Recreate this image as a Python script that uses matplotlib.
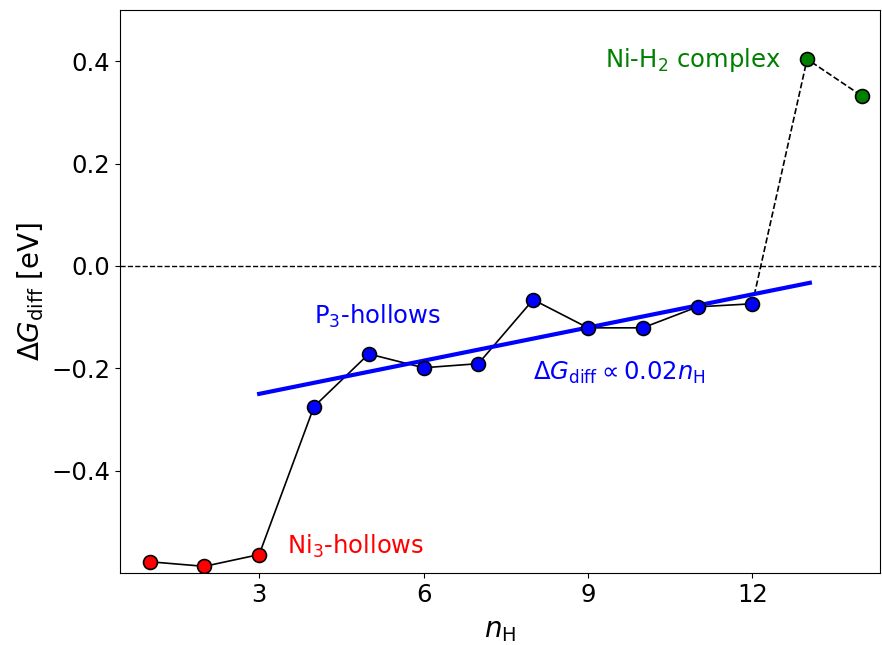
import matplotlib
matplotlib.use("Agg")
import matplotlib.pyplot as plt

# Differential Gibbs free energy of H adsorption vs. number of adsorbed H
n_ni3 = [1, 2, 3]
dg_ni3 = [-0.578, -0.587, -0.564]

n_p3 = [4, 5, 6, 7, 8, 9, 10, 11, 12]
dg_p3 = [-0.275, -0.172, -0.199, -0.191, -0.066, -0.121, -0.121, -0.080, -0.074]

n_h2 = [13, 14]
dg_h2 = [0.404, 0.332]

# Linear trend over the P3-hollow regime
fit_n = [3, 13.05]
fit_dg = [-0.250, -0.033]

x_ticks = [3, 6, 9, 12]
y_ticks = [-0.4, -0.2, 0.0, 0.2, 0.4]

fig = plt.figure(figsize=(8.82, 6.45), dpi=100)
ax = fig.add_axes([120 / 882, 1 - 573 / 645, 760 / 882, 563 / 645])

ax.axhline(0.0, color="black", ls="--", lw=1.0, zorder=1)

n_solid = n_ni3 + n_p3
dg_solid = dg_ni3 + dg_p3
ax.plot(n_solid, dg_solid, color="black", lw=1.2, zorder=2)
ax.plot([n_p3[-1]] + n_h2, [dg_p3[-1]] + dg_h2, color="black", lw=1.2, ls="--", zorder=2)

ax.plot(fit_n, fit_dg, color="blue", lw=3, zorder=3)

mk = dict(marker="o", ls="none", ms=10, mec="black", mew=1.2, zorder=4)
ax.plot(n_ni3, dg_ni3, mfc="red", **mk)
ax.plot(n_p3, dg_p3, mfc="blue", **mk)
ax.plot(n_h2, dg_h2, mfc="green", **mk)

fs = 17.5
ax.text(9.31, 0.402, r"Ni-H$_2$ complex", color="green", fontsize=fs, va="center", ha="left")
ax.text(4.0, -0.098, r"P$_3$-hollows", color="blue", fontsize=fs, va="center", ha="left")
ax.text(8.0, -0.209, r"$\Delta G_\mathrm{diff} \propto 0.02n_\mathrm{H}$", color="blue",
        fontsize=fs, va="center", ha="left")
ax.text(3.5, -0.548, r"Ni$_3$-hollows", color="red", fontsize=fs, va="center", ha="left")

ax.set_xlim(0.46, 14.33)
ax.set_ylim(-0.6, 0.5)
ax.set_xticks(x_ticks)
ax.set_yticks(y_ticks)
ax.tick_params(labelsize=fs)
ax.set_xlabel(r"$n_\mathrm{H}$", fontsize=20, labelpad=7)
ax.set_ylabel(r"$\Delta G_\mathrm{diff}$ [eV]", fontsize=20)

fig.savefig("out.png", dpi=100)
